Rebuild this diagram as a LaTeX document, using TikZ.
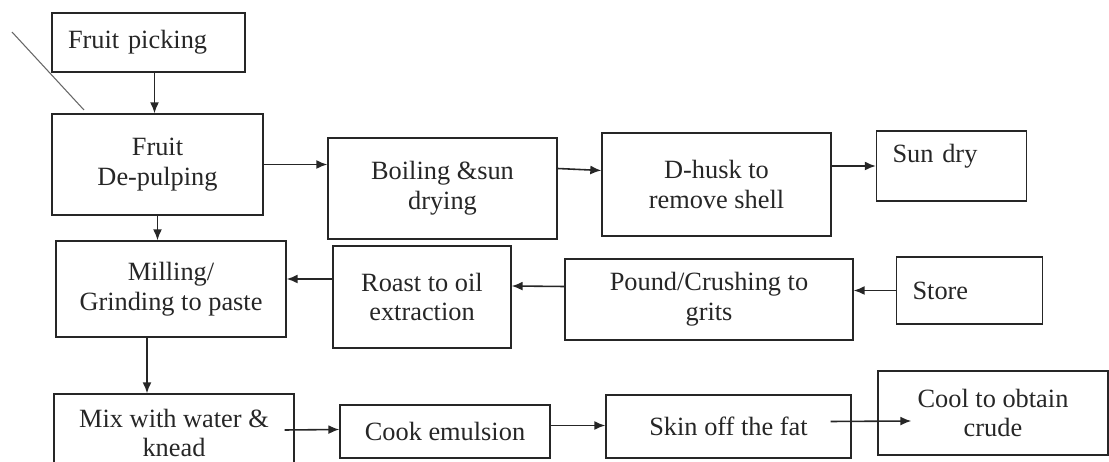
\documentclass[tikz,border=0pt]{standalone}
\usepackage{fontspec}
\setmainfont{Liberation Serif}
\usetikzlibrary{positioning,calc,arrows.meta}

\begin{document}
\begin{tikzpicture}[x=0.02cm,y=-0.02cm,
        stage/.style={draw=black!85,line width=0.8pt,align=center,inner sep=2pt,text=black!85,font=\fontsize{15}{17}\selectfont},
        lstage/.style={stage,align=left,inner xsep=0.32cm},
        arr/.style={-{Latex[length=2.2mm,width=1.8mm]},line width=0.9pt,draw=black!85}]
        \useasboundingbox (0,0) rectangle (1109,462);
        \clip (0,0) rectangle (1109,462);
        \node[lstage,text width=3.22cm,minimum height=1.18cm] (pick) at (148.5,42.5) {Fruit picking};
        \node[stage,minimum width=4.22cm,minimum height=2.02cm] (pulp) at (157.5,164.5) {Fruit\\De-pulping};
        \node[stage,minimum width=4.58cm,minimum height=2.02cm] (boil) at (442.5,188.5) {Boiling \&sun\\drying};
        \node[stage,minimum width=4.58cm,minimum height=2.06cm] (husk) at (716.5,184.5) {D-husk to\\remove shell};
        \node[lstage,text width=2.36cm,minimum height=1.4cm,text depth=0.5cm] (sun) at (951.5,166) {Sun dry};
        \node[lstage,text width=2.28cm,minimum height=1.34cm] (store) at (969.5,290.5) {Store};
        \node[stage,minimum width=5.76cm,minimum height=1.62cm] (pound) at (709,299.5) {Pound/Crushing to\\grits};
        \node[stage,minimum width=3.56cm,minimum height=2.04cm] (roast) at (422,297) {Roast to oil\\extraction};
        \node[stage,minimum width=4.6cm,minimum height=1.92cm] (mill) at (171,289) {Milling/\\Grinding to paste};
        \node[stage,minimum width=4.8cm,minimum height=1.56cm] (mix) at (174,433) {Mix with water \&\\knead};
        \node[stage,minimum width=4.2cm,minimum height=1.06cm] (cook) at (445,431.5) {Cook emulsion};
        \node[stage,minimum width=4.9cm,minimum height=1.26cm] (skin) at (728.5,426.5) {Skin off the fat};
        \node[stage,minimum width=4.6cm,minimum height=1.68cm] (cool) at (993,413) {Cool to obtain\\crude};
        \coordinate (cutA) at (12,32);
        \coordinate (cutB) at (84,110);
        \draw[black!60,line width=0.6pt] (cutA) -- (cutB);
        \draw[arr] ($(pick.south)+(6,0)$) -- ($(pick.south|-pulp.north)+(6,0)$);
        \draw[arr] (pulp.east) -- (pulp.east-|boil.west);
        \draw[arr] ($(boil.east)+(0,-20)$) -- ($(husk.west)+(0,-14)$);
        \draw[arr] (husk.east|-sun.west) -- (sun.west);
        \draw[arr] (pulp.south) -- (pulp.south|-mill.north);
        \draw[arr] (store.west) -- (store.west-|pound.east);
        \draw[arr] ($(pound.west)+(0,-13)$) -- ($(roast.east)+(0,-11)$);
        \draw[arr] ($(roast.west)+(0,-18)$) -- ($(mill.east)+(0,-10)$);
        \draw[arr] ($(mill.south)+(-24,0)$) -- ($(mix.north)+(-27,0)$);
        \draw[arr] ($(mix.east)+(-10,-3)$) -- ($(cook.west)+(0,-2)$);
        \draw[arr] ($(cook.east)+(0,-6)$) -- ($(skin.west)+(0,-1)$);
        \draw[arr] ($(skin.east)+(-21,-5)$) -- ($(cool.west)+(34,8)$);
    \end{tikzpicture}
\end{document}
